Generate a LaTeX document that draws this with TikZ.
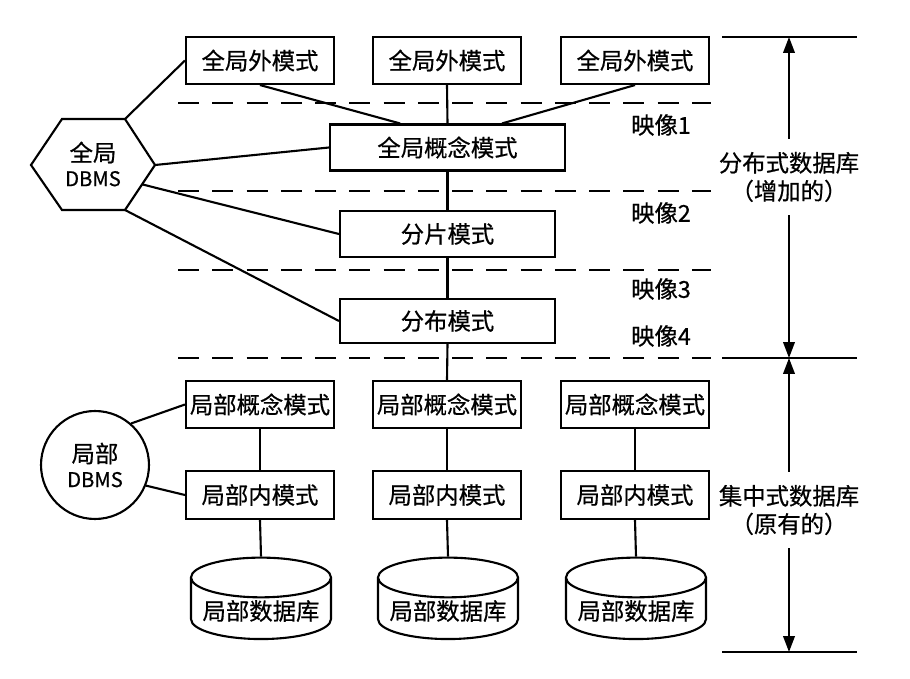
\documentclass[tikz,border=0pt]{standalone}
\usepackage{fontspec}
\setmainfont{Noto Sans CJK SC}[FakeBold=0.6]
\usepackage{tikz}
\usetikzlibrary{arrows.meta,calc,positioning,shapes.geometric}

\begin{document}
\begin{tikzpicture}[x=0.02cm,y=-0.02cm,line width=1.2pt,
    font=\fontsize{13.3}{16}\selectfont,
    schema/.style={draw,rectangle,inner sep=1pt,minimum width=2.96cm,minimum height=0.94cm},
    layer/.style={draw,rectangle,inner sep=1pt,minimum height=0.92cm},
    store/.style={draw,cylinder,shape border rotate=90,aspect=0.33,inner sep=1pt,
      minimum width=2.8cm,minimum height=1.17cm},
    sep/.style={dash pattern=on 12pt off 7.5pt,line width=1.2pt},
    span/.style={-{Triangle[length=9pt,width=6.5pt]}}]
  \useasboundingbox (0,0) rectangle (910,679);

  % global part
  \node[schema] (ext1) at (260,60.5) {全局外模式};
  \node[schema] (ext2) at (447,60.5) {全局外模式};
  \node[schema] (ext3) at (635,60.5) {全局外模式};
  \node[layer,minimum width=4.7cm] (gcs) at (447.5,147.5) {全局概念模式};
  \node[layer,minimum width=4.3cm] (frag) at (447.5,234) {分片模式};
  \node[layer,minimum width=4.3cm,minimum height=0.88cm] (alloc) at (447.5,321) {分布模式};

  % global DBMS hexagon
  \node[align=center,inner sep=0pt] (gdbms) at (93,164) {全局\\[-2pt]{\fontsize{11.5}{13}\selectfont DBMS}};
  \coordinate (h1) at (31,165);  \coordinate (h2) at (62,119);
  \coordinate (h3) at (125,119); \coordinate (h4) at (155,165);
  \coordinate (h5) at (125,210); \coordinate (h6) at (62,210);
  \draw (h1) -- (h2) -- (h3) -- (h4) -- (h5) -- (h6) -- cycle;

  % mapping separators
  \foreach \y in {103,191,270,358}
    \draw[sep] (178,\y) -- (711,\y);
  \node (map1) at (661,125) {映像1};
  \node (map2) at (661,213) {映像2};
  \node (map3) at (661,289) {映像3};
  \node (map4) at (661,336) {映像4};

  % local part
  \foreach \i/\x in {1/260,2/447,3/635} {
    \node[schema] (lcs\i) at (\x,404.5) {局部概念模式};
    \node[schema,minimum height=0.96cm] (lis\i) at (\x,495) {局部内模式};
    \node[store] (db\i) at (\x+1,611) {局部数据库};
    \draw (lcs\i.south) -- (lis\i.north);
    \draw (lis\i.south) -- (db\i.north);
  }
  \node[circle,draw,minimum size=2.16cm,inner sep=0pt,align=center] (ldbms) at (95,465)
    {局部\\[-2pt]{\fontsize{11.5}{13}\selectfont DBMS}};

  % links
  \draw (ext1.south) -- ($(gcs.north west)!0.3!(gcs.north east)$);
  \draw (ext2.south) -- (gcs.north);
  \draw (ext3.south) -- ($(gcs.north west)!0.73!(gcs.north east)$);
  \draw (gcs.south) -- (frag.north);
  \draw (frag.south) -- (alloc.north);
  \draw (alloc.south) -- (lcs2.north);
  \draw (h3) -- (ext1.west);
  \draw (h4) -- (gcs.west);
  \draw ($(h4)!0.43!(h5)$) -- (frag.west);
  \draw (h5) -- (alloc.west);
  \draw (ldbms.49) -- (lcs1.west);
  \draw (ldbms.-22) -- (lis1.west);

  % right-hand scale
  \foreach \y in {37,358,652}
    \draw (722,\y) -- (857,\y);
  \node[align=center,inner sep=0pt] (distr) at (789,177) {分布式数据库\\（增加的）};
  \node[align=center,inner sep=0pt] (central) at (789,510) {集中式数据库\\（原有的）};
  \coordinate (top) at (789,37);
  \coordinate (mid) at (789,358);
  \coordinate (bot) at (789,652);
  \draw[span] ($(distr.north)+(0,-12)$) -- (top);
  \draw[span] ($(distr.south)+(0,12)$) -- (mid);
  \draw[span] ($(central.north)+(0,-12)$) -- (mid);
  \draw[span] ($(central.south)+(0,12)$) -- (bot);
\end{tikzpicture}
\end{document}
